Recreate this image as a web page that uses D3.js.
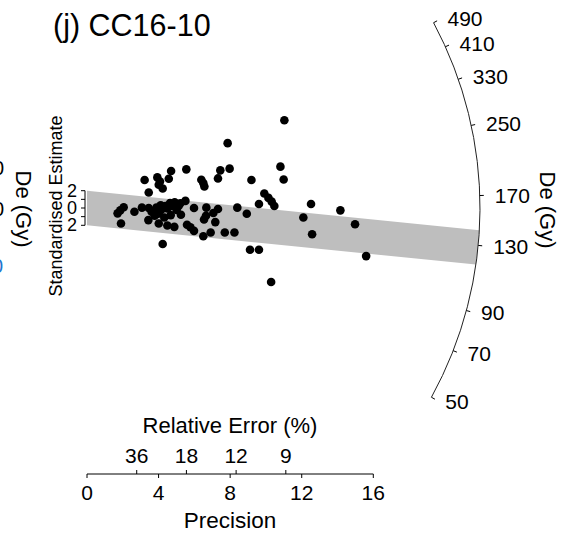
<!DOCTYPE html>
<html>
<head>
<meta charset="utf-8">
<script src="https://cdn.jsdelivr.net/npm/d3@7"></script>
<style>
  body { margin: 0; background: #fff; }
  svg text { font-family: "Liberation Sans", Arial, sans-serif; fill: #000; }
</style>
</head>
<body>
<svg id="chart" width="567" height="536"></svg>
<script>
// values
var precision = [11.03, 7.86, 10.81, 10.99, 5.55, 4.70, 7.45, 7.97, 3.22, 3.93,
  4.08, 4.57, 4.23, 4.01, 6.39, 6.50, 6.56, 7.32, 9.19, 3.45,
  9.91, 10.14, 10.32, 10.47, 9.61, 12.52, 14.16, 12.09, 14.98, 12.58,
  15.60, 10.29, 9.11, 9.61, 4.23, 8.24, 7.70, 6.91, 6.50, 5.98,
  5.78, 5.59, 8.93, 8.40, 7.32, 7.06, 6.67, 6.65, 6.54, 7.17,
  5.98, 5.50, 5.22, 4.90, 4.64, 4.38, 4.14, 3.88, 3.45, 3.07,
  2.65, 2.05, 1.86, 1.71, 1.90, 3.43, 4.01, 4.49, 4.88, 5.25,
  5.01, 4.68, 4.32, 3.78, 3.61, 5.12, 3.97, 4.49, 4.12, 4.73];
var stdEstimate = [10.15, 7.50, 4.78, 3.30, 4.47, 4.28, 4.35, 4.55, 3.23, 3.54,
  3.07, 3.38, 2.25, 2.68, 3.27, 2.88, 2.49, 3.42, 3.23, 1.79,
  1.67, 1.17, 0.74, 0.23, 0.47, 0.47, -0.27, -1.09, -1.87, -3.03,
  -5.56, -8.55, -4.82, -4.82, -4.16, -2.84, -2.84, -2.84, -3.27, -2.64,
  -2.22, -1.94, -0.66, 0.04, -0.12, -0.58, 0.04, -0.89, -1.32, -1.63,
  0.00, 0.82, 0.54, 0.66, 0.58, 0.23, -0.23, 0.04, 0.00, 0.04,
  -0.43, 0.08, -0.27, -0.62, -1.79, -1.40, -1.79, -2.02, -2.18, -0.78,
  -0.23, -0.82, -1.09, -0.89, -0.43, 0.23, -0.66, -0.04, 0.31, 0.23];

var deTicks = [50, 70, 90, 130, 170, 250, 330, 410, 490];
var precisionTicks = [0, 4, 8, 12, 16];
var relErrorTicks = [36, 18, 12, 9];
var zTicks = [-2, -1, 0, 1, 2];
var zLabels = [{v: -2, t: "2"}, {v: 0, t: "0"}, {v: 2, t: "2"}];
var refDe = 159;      // reference value of the radial scale
var centralDe = 129;  // central value, grey 2-sigma band

var svg = d3.select("#chart");
var x = d3.scaleLinear().domain([0, 16]).range([87, 373.3]);
var y = d3.scaleLinear().domain([-2, 2]).range([225.3, 190.7]);

var px = x(1) - x(0);
var py = y(0) - y(1);
var cx = x(0), cy = y(0);
var R = 393;
var arcRatio = 0.475;  // slope factor used for the radial scale
var z0 = Math.log(refDe);

// angle (up from horizontal) of a De value on the radial scale
function angle(d) {
  return Math.atan(arcRatio * (Math.log(d) - z0));
}
function onArc(d, rr) {
  var a = angle(d);
  return [cx + rr * Math.cos(a), cy - rr * Math.sin(a)];
}

// grey band: z = s*p +/- 2, cut by the arc
var s = Math.log(centralDe) - z0;
function bandEnd(off) {
  var A = px * px + py * py * s * s;
  var B = 2 * py * py * s * off;
  var C = py * py * off * off - R * R;
  var p = (-B + Math.sqrt(B * B - 4 * A * C)) / (2 * A);
  return [p, s * p + off];
}
var bTop = bandEnd(2), bBot = bandEnd(-2);
var band = [[0, 2], bTop, bBot, [0, -2]];
svg.append("path")
    .attr("d", d3.line().x(function (d) { return x(d[0]); }).y(function (d) { return y(d[1]); })(band) + "Z")
    .style("fill", "#bebebe");

// arc
var pth = d3.path();
pth.arc(cx, cy, R, -angle(deTicks[deTicks.length - 1]), -angle(deTicks[0]));
svg.append("path")
    .attr("d", pth.toString())
    .style("fill", "none")
    .style("stroke", "#222")
    .style("stroke-width", 1);

var arcTicks = svg.append("g");
deTicks.forEach(function (d) {
  var p0 = onArc(d, R), p1 = onArc(d, R + 4), pl = onArc(d, R + 9);
  arcTicks.append("line")
      .attr("x1", p0[0]).attr("y1", p0[1])
      .attr("x2", p1[0]).attr("y2", p1[1])
      .style("stroke", "#000");
  arcTicks.append("text")
      .attr("x", pl[0] + 6).attr("y", pl[1])
      .attr("dominant-baseline", "central")
      .style("font-size", "21px")
      .text(d);
});

// points
svg.append("g").selectAll("circle")
    .data(precision.map(function (p, i) { return {p: p, z: stdEstimate[i]}; }))
    .enter().append("circle")
    .attr("cx", function (d) { return x(d.p); })
    .attr("cy", function (d) { return y(d.z); })
    .attr("r", 4.3)
    .style("fill", "#000");

// standardised estimate axis
var ax = 85;
var zAxis = svg.append("g");
zAxis.append("line")
    .attr("x1", ax).attr("x2", ax)
    .attr("y1", y(-2)).attr("y2", y(2))
    .style("stroke", "#000");
zAxis.selectAll(".zt").data(zTicks).enter().append("line")
    .attr("x1", ax - 4).attr("x2", ax)
    .attr("y1", function (d) { return y(d); })
    .attr("y2", function (d) { return y(d); })
    .style("stroke", "#000");
zAxis.selectAll("text").data(zLabels).enter().append("text")
    .attr("x", 77)
    .attr("y", function (d) { return y(d.v); })
    .attr("text-anchor", "end")
    .attr("dominant-baseline", "central")
    .style("font-size", "18px")
    .text(function (d) { return d.t; });

// precision / relative error axis
var axY = 474;
var bottom = svg.append("g");
bottom.append("line")
    .attr("x1", x(0)).attr("x2", x(16))
    .attr("y1", axY).attr("y2", axY)
    .style("stroke", "#000");
bottom.selectAll(".pt").data(precisionTicks).enter().append("line")
    .attr("x1", function (d) { return x(d); })
    .attr("x2", function (d) { return x(d); })
    .attr("y1", axY).attr("y2", axY + 4)
    .style("stroke", "#000");
bottom.selectAll(".pl").data(precisionTicks).enter().append("text")
    .attr("x", function (d) { return x(d); })
    .attr("y", 492)
    .attr("text-anchor", "middle")
    .attr("dominant-baseline", "central")
    .style("font-size", "21px")
    .text(function (d) { return d; });
bottom.selectAll(".rt").data(relErrorTicks).enter().append("line")
    .attr("x1", function (d) { return x(100 / d); })
    .attr("x2", function (d) { return x(100 / d); })
    .attr("y1", axY).attr("y2", axY - 4)
    .style("stroke", "#000");
bottom.selectAll(".rl").data(relErrorTicks).enter().append("text")
    .attr("x", function (d) { return x(100 / d); })
    .attr("y", 455)
    .attr("text-anchor", "middle")
    .attr("dominant-baseline", "central")
    .style("font-size", "21px")
    .text(function (d) { return d; });

svg.append("text")
    .attr("x", 230).attr("y", 425)
    .attr("text-anchor", "middle")
    .attr("dominant-baseline", "central")
    .style("font-size", "22px")
    .text("Relative Error (%)");
svg.append("text")
    .attr("x", 230).attr("y", 520)
    .attr("text-anchor", "middle")
    .attr("dominant-baseline", "central")
    .style("font-size", "22.5px")
    .text("Precision");

// title and side labels
svg.append("text")
    .attr("x", 53).attr("y", 36)
    .style("font-size", "30.5px")
    .text("(j) CC16-10");
svg.append("text")
    .attr("transform", "translate(56,206) rotate(-90)")
    .attr("text-anchor", "middle")
    .attr("dominant-baseline", "central")
    .style("font-size", "18px")
    .text("Standardised Estimate");
svg.append("text")
    .attr("transform", "translate(547,210) rotate(90)")
    .attr("text-anchor", "middle")
    .attr("dominant-baseline", "central")
    .style("font-size", "22px")
    .text("De (Gy)");

// cut-off pieces of the neighbouring panel
svg.append("text")
    .attr("transform", "translate(23,209) rotate(90)")
    .attr("text-anchor", "middle")
    .attr("dominant-baseline", "central")
    .style("font-size", "22px")
    .text("De (Gy)");
svg.append("text").attr("x", 4).attr("y", 168).attr("text-anchor", "end")
    .attr("dominant-baseline", "central").style("font-size", "20px").text("0");
svg.append("text").attr("x", 4).attr("y", 209).attr("text-anchor", "end")
    .attr("dominant-baseline", "central").style("font-size", "20px").text("0");
svg.append("text").attr("x", 3).attr("y", 266).attr("text-anchor", "end")
    .attr("dominant-baseline", "central").style("font-size", "20px")
    .style("fill", "#1f77d0").text("0");
</script>
</body>
</html>
